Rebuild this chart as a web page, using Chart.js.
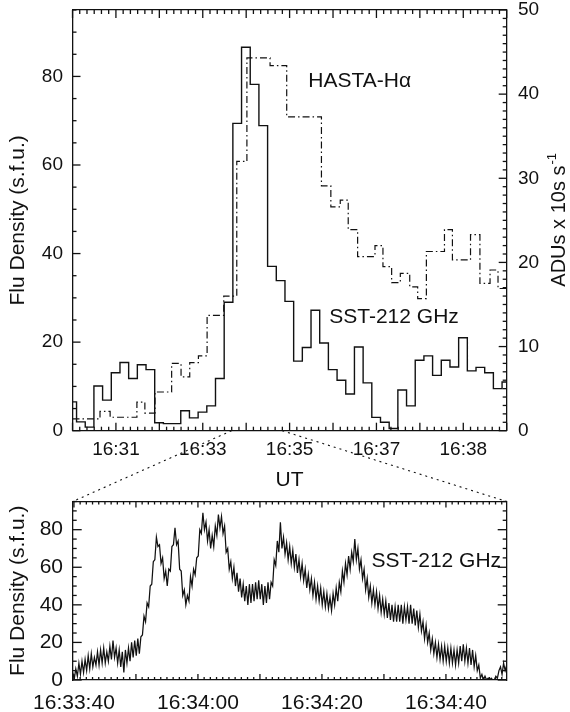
<!DOCTYPE html>
<html><head><meta charset="utf-8">
<script src="https://cdn.jsdelivr.net/npm/chart.js@4.4.1/dist/chart.umd.min.js"></script>
<style>
html,body{margin:0;padding:0;background:#fff;width:570px;height:712px;overflow:hidden;}
#c1{position:absolute;left:0;top:0;}
#c2{position:absolute;left:0;top:420px;}
</style></head><body>
<canvas id="c1" width="570" height="500"></canvas>
<canvas id="c2" width="570" height="292"></canvas>
<script>
// ---------- DATA (time in seconds after 16:30:00 UT) ----------
const sstTimes = [0, 5.6, 17.6, 29.6, 41.6, 53.6, 65.6, 77.6, 89.6, 101.6, 113.6, 125.6, 137.6, 149.6, 161.6, 173.6, 185.6, 197.6, 209.6, 221.6, 233.6, 245.6, 257.6, 269.6, 281.6, 293.6, 305.6, 317.6, 329.6, 341.6, 353.6, 365.6, 377.6, 389.6, 401.6, 413.6, 425.6, 437.6, 449.6, 461.6, 473.6, 485.6, 497.6, 509.6, 521.6, 533.6, 545.6, 557.6, 569.6, 581.6, 593.6, 600];
const sstFlux = [6.5, 2.0, 0.8, 10.1, 6.9, 13.1, 15.4, 11.8, 14.9, 13.8, 1.8, 1.6, 1.6, 4.5, 2.9, 4.2, 5.6, 11.8, 29.0, 69.4, 86.6, 78.2, 68.9, 37.1, 33.9, 29.2, 15.7, 18.8, 27.2, 19.8, 13.8, 11.4, 8.3, 18.9, 10.8, 3.0, 1.9, 0.5, 9.2, 5.6, 15.9, 16.9, 12.5, 15.9, 14.4, 21.0, 13.5, 14.3, 13.1, 9.5, 11.0, 11.0];

const hastaTimes = [0, 38, 52, 89, 100, 114, 137, 150, 162, 174, 186, 209, 227, 241, 273, 296, 344, 357, 370, 381, 394, 418, 429, 441, 453, 466, 477, 489, 514, 525, 550, 563, 577, 588, 600];
const hastaADU = [1.4, 2.3, 1.6, 3.4, 2.1, 4.6, 8.0, 6.4, 8.1, 8.9, 13.7, 16.0, 32.0, 44.3, 43.4, 37.3, 29.1, 26.6, 27.4, 23.9, 20.7, 22.0, 19.5, 17.6, 18.7, 17.1, 15.7, 21.3, 23.9, 20.3, 23.3, 17.5, 19.1, 16.9, 16.9];

// zoomed SST-212 GHz record: first sample time, window end and sample spacing (s)
const zoomStart = 219.8;
const zoomEnd = 289.8;
const zoomStep = 0.25;
const zoomFlux = [
 4,0.5,6,2, 9,3,10,4, 11,5,13,6, 14,7,12,8, 15,8,16,9, 17,9,15,10, 18,11,21,12, 17,9,16,7, 15,4,16,9, 17,10,20,12,
 21,13,22,14, 23,24,34,31, 41,39,50,51, 63,64,76,71, 72,62,65,54, 58,50,59,58, 71,72,81,72, 74,59,58,45, 48,40,45,42, 55,50,59,56,
 65,66,80,78, 89,80,84,74, 80,70,77,71, 82,77,88,81, 87,78,82,68, 70,59,63,54, 60,50,57,47, 54,44,51,42, 50,40,51,41, 51,42,52,43,
 53,43,51,40, 50,41,52,43, 52,50,64,61, 74,68,84,70, 76,67,73,64, 71,62,69,60, 67,57,64,55, 62,53,59,49, 56,48,54,45, 52,43,50,42,
 49,40,47,39, 46,38,44,37, 46,40,49,42, 52,47,58,52, 62,56,66,59, 68,63,75,64, 70,59,64,54, 59,48,54,44, 50,41,48,40, 47,38,45,36,
 43,35,42,33, 41,32,40,31, 39,31,40,31, 40,30,39,32, 39,30,40,30, 38,29,37,28, 35,26,31,22, 29,20,25,16, 22,14,20,12, 19,11,18,10,
 18,10,17,9, 17,9,16,8, 16,9,18,10, 19,10,17,9, 17,8,16,7, 13,5,8,1, 3,0,2,0, 1,0,1,0, 0,2,1,5, 7,3,9,5, 8
];

const topTickSeconds = [60, 180, 300, 420, 540];
const topTickLabels = ['16:31', '16:33', '16:35', '16:37', '16:38'];
const bottomTickSeconds = [220, 240, 260, 280];
const bottomTickLabels = ['16:33:40', '16:34:00', '16:34:20', '16:34:40'];
const fluxTickValues = [0, 20, 40, 60, 80];
const fluxTickLabels = ['0', '20', '40', '60', '80'];
const aduTickValues = [0, 10, 20, 30, 40, 50];
const aduTickLabels = ['0', '10', '20', '30', '40', '50'];

const leftTitle = 'Flu Density (s.f.u.)';
const rightTitle = 'ADUs x 10s s';
const rightTitleSup = '-1';
const xTitle = 'UT';
const hastaLabel = 'HASTA-H\u03B1';
const sstLabel = 'SST-212 GHz';

// ---------- helpers ----------
const INK = '#111';
const FAMILY = "'Liberation Sans', Arial, Helvetica, sans-serif";
Chart.defaults.font.family = FAMILY;
Chart.defaults.color = INK;

function makeTicks(min, max, step) {
  const out = [];
  const start = Math.ceil(min / step - 1e-9) * step;
  for (let k = 0; ; k++) {
    const v = +(start + k * step).toFixed(4);
    if (v > max + 1e-9) break;
    out.push({ value: v });
  }
  return out;
}
function idxOf(v, list) { return list.findIndex(p => Math.abs(p - v) < 1e-6); }
function isMult(v, m) { const r = v / m; return Math.abs(r - Math.round(r)) < 1e-6; }

function axis(o) {
  return {
    type: 'linear', position: o.position, min: o.min, max: o.max,
    afterBuildTicks: s => { s.ticks = makeTicks(o.min, o.max, o.step); },
    afterFit: s => {
      if (o.position === 'top' || o.position === 'bottom') s.height = o.size; else s.width = o.size;
      s.paddingTop = 0; s.paddingBottom = 0; s.paddingLeft = 0; s.paddingRight = 0;
    },
    grid: { display: false, drawOnChartArea: false, drawTicks: false, tickLength: 0 },
    border: { display: true, color: INK, width: 1.3 },
    ticks: {
      display: !!o.labelPos, autoSkip: false, maxRotation: 0, minRotation: 0,
      padding: o.pad || 0, font: { size: o.fontSize || 19 }, color: INK,
      callback: v => { const i = idxOf(v, o.labelPos || []); return i >= 0 ? o.labelTxt[i] : ''; }
    },
    title: o.title || { display: false }
  };
}

// inward major/minor tick marks, placed at each scale's own tick values
const tickSpecs = {
  c1: [
    { axis: 'x', major: 60, long: 8, short: 4, sides: ['bottom', 'top'] },
    { axis: 'y', major: 20, long: 8, short: 4, sides: ['left'] },
    { axis: 'y1', major: 10, long: 8, short: 4, sides: ['right'] }
  ],
  c2: [
    { axis: 'x', major: 10, long: 6, short: 3, sides: ['bottom', 'top'] },
    { axis: 'y', major: 20, long: 9, short: 4, sides: ['left', 'right'] }
  ]
};
const innerTicksPlugin = {
  id: 'tk',
  afterDraw(chart) {
    const specs = tickSpecs[chart.canvas.id] || [];
    const ctx = chart.ctx, ca = chart.chartArea;
    ctx.save();
    ctx.strokeStyle = INK; ctx.lineWidth = 1.3;
    specs.forEach(sp => {
      const sc = chart.scales[sp.axis];
      if (!sc) return;
      sc.ticks.forEach(t => {
        const p = sc.getPixelForValue(t.value);
        const len = isMult(t.value, sp.major) ? sp.long : sp.short;
        sp.sides.forEach(side => {
          ctx.beginPath();
          if (side === 'bottom') { ctx.moveTo(p, ca.bottom); ctx.lineTo(p, ca.bottom - len); }
          else if (side === 'top') { ctx.moveTo(p, ca.top); ctx.lineTo(p, ca.top + len); }
          else if (side === 'left') { ctx.moveTo(ca.left, p); ctx.lineTo(ca.left + len, p); }
          else { ctx.moveTo(ca.right, p); ctx.lineTo(ca.right - len, p); }
          ctx.stroke();
        });
      });
    });
    ctx.restore();
  }
};

const noteSpecs = {
  c1: {
    items: [
      { text: hastaLabel, x: 325.8, y: 41.5, yAxis: 'y1', size: 21 },
      { text: sstLabel, x: 354.8, y: 25.7, yAxis: 'y', size: 21 }
    ],
    sideTitle: { axis: 'y1', inset: 11, text: rightTitle, sup: rightTitleSup, size: 20, supSize: 13 }
  },
  c2: { items: [{ text: sstLabel, x: 268.0, y: 63.1, yAxis: 'y', size: 21 }] }
};
const notesPlugin = {
  id: 'nt',
  afterDatasetsDraw(chart) {
    const opts = noteSpecs[chart.canvas.id] || {};
    const ctx = chart.ctx;
    (opts.items || []).forEach(it => {
      const xs = chart.scales[it.xAxis || 'x'], ys = chart.scales[it.yAxis || 'y'];
      ctx.save();
      ctx.font = it.size + 'px ' + FAMILY;
      ctx.fillStyle = INK; ctx.textAlign = 'left'; ctx.textBaseline = 'middle';
      ctx.fillText(it.text, xs.getPixelForValue(it.x), ys.getPixelForValue(it.y));
      ctx.restore();
    });
    const st = opts.sideTitle;
    if (st) {
      const sc = chart.scales[st.axis];
      const ca = chart.chartArea;
      const cx = sc.right - st.inset, cy = (ca.top + ca.bottom) / 2;
      ctx.save();
      ctx.translate(cx, cy); ctx.rotate(-Math.PI / 2);
      ctx.fillStyle = INK; ctx.textBaseline = 'middle'; ctx.textAlign = 'left';
      ctx.font = st.size + 'px ' + FAMILY;
      const w = ctx.measureText(st.text).width;
      ctx.font = st.supSize + 'px ' + FAMILY;
      const ws = ctx.measureText(st.sup).width;
      const x0 = -(w + ws) / 2;
      ctx.font = st.size + 'px ' + FAMILY;
      ctx.fillText(st.text, x0, 0);
      ctx.font = st.supSize + 'px ' + FAMILY;
      ctx.fillText(st.sup, x0 + w + 1, -7);
      ctx.restore();
    }
  }
};

// ---------- top chart ----------
const topChart = new Chart(document.getElementById('c1'), {
  type: 'line',
  data: {
    datasets: [
      { label: sstLabel, data: sstTimes.map((t, i) => ({ x: t, y: sstFlux[i] })),
        xAxisID: 'x', yAxisID: 'y', stepped: true, borderColor: INK, borderWidth: 1.4,
        pointRadius: 0, fill: false },
      { label: hastaLabel, data: hastaTimes.map((t, i) => ({ x: t, y: hastaADU[i] })),
        xAxisID: 'x', yAxisID: 'y1', stepped: true, borderColor: INK, borderWidth: 1.2,
        borderDash: [7, 3, 1.5, 3], pointRadius: 0, fill: false }
    ]
  },
  options: {
    responsive: false, animation: false, devicePixelRatio: 1, events: [],
    layout: { padding: 0, autoPadding: false },
    plugins: { legend: { display: false }, tooltip: { enabled: false } },
    scales: {
      x: axis({ position: 'bottom', min: 0, max: 600, step: 10, size: 69.3,
        labelPos: topTickSeconds, labelTxt: topTickLabels, fontSize: 19, pad: 8,
        title: { display: true, text: xTitle, font: { size: 21 }, color: INK, padding: { top: 0, bottom: 7.4 } } }),
      xTop: axis({ position: 'top', min: 0, max: 600, step: 10, size: 10 }),
      y: axis({ position: 'left', min: 0, max: 95, step: 5, size: 72.5,
        labelPos: fluxTickValues, labelTxt: fluxTickLabels, fontSize: 19, pad: 9.5,
        title: { display: true, text: leftTitle, font: { size: 21 }, color: INK, padding: { top: 5.4, bottom: 0 } } }),
      y1: axis({ position: 'right', min: 0, max: 50, step: 1, size: 63.3,
        labelPos: aduTickValues, labelTxt: aduTickLabels, fontSize: 19, pad: 11.3 })
    }
  },
  plugins: [innerTicksPlugin, notesPlugin]
});

// ---------- connector lines (zoom window) ----------
const CANVAS2_TOP = 420;
const connectorPlugin = {
  id: 'cn',
  afterDraw(chart) {
    const ctx = chart.ctx;
    const tx = topChart.scales.x, ta = topChart.chartArea;
    const ba = chart.chartArea;
    const pairs = [[zoomStart, ba.left], [zoomEnd, ba.right]];
    ctx.save();
    ctx.strokeStyle = INK; ctx.lineWidth = 1.1; ctx.setLineDash([2, 4]);
    pairs.forEach(([v, xb]) => {
      ctx.beginPath();
      ctx.moveTo(tx.getPixelForValue(v), ta.bottom - CANVAS2_TOP);
      ctx.lineTo(xb, ba.top);
      ctx.stroke();
    });
    ctx.restore();
  }
};

// ---------- bottom chart ----------
new Chart(document.getElementById('c2'), {
  type: 'line',
  data: {
    datasets: [
      { label: sstLabel, data: zoomFlux.map((v, i) => ({ x: zoomStart + i * zoomStep, y: v })),
        xAxisID: 'x', yAxisID: 'y', borderColor: INK, borderWidth: 1.25, pointRadius: 0, fill: false }
    ]
  },
  options: {
    responsive: false, animation: false, devicePixelRatio: 1, events: [],
    layout: { padding: 0, autoPadding: false },
    plugins: { legend: { display: false }, tooltip: { enabled: false } },
    scales: {
      x: axis({ position: 'bottom', min: zoomStart, max: zoomEnd, step: 1, size: 32,
        labelPos: bottomTickSeconds, labelTxt: bottomTickLabels, fontSize: 21, pad: 10.4 }),
      xTop: axis({ position: 'top', min: zoomStart, max: zoomEnd, step: 1, size: 81.5 }),
      y: axis({ position: 'left', min: 0, max: 95, step: 5, size: 72.7,
        labelPos: fluxTickValues, labelTxt: fluxTickLabels, fontSize: 21, pad: 9.7,
        title: { display: true, text: leftTitle, font: { size: 21 }, color: INK, padding: { top: 5.4, bottom: 0 } } }),
      yR: axis({ position: 'right', min: 0, max: 95, step: 5, size: 63.3 })
    }
  },
  plugins: [innerTicksPlugin, notesPlugin, connectorPlugin]
});
</script>
</body></html>
